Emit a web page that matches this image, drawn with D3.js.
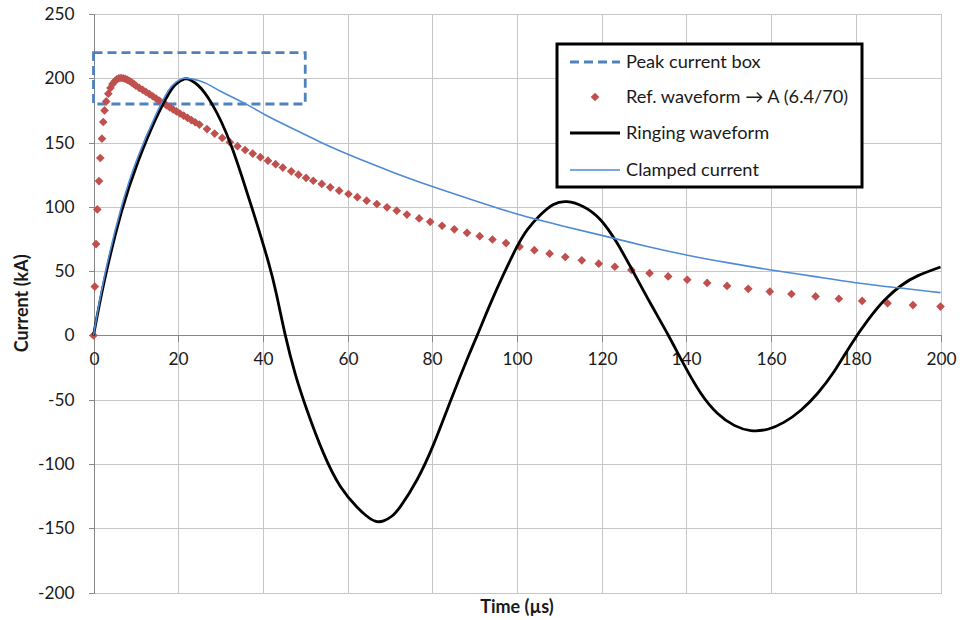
<!DOCTYPE html>
<html>
<head>
<meta charset="utf-8">
<script src="https://cdn.jsdelivr.net/npm/d3@7"></script>
<style>
  html, body { margin: 0; padding: 0; background: #fff; }
  svg { display: block; font-family: Lato, "Open Sans", sans-serif; }
</style>
</head>
<body>
<svg id="chart" width="960" height="620"></svg>
<script>
// Time axis (µs) and current axis (kA)
const xTicks = [0, 20, 40, 60, 80, 100, 120, 140, 160, 180, 200];
const yTicks = [-200, -150, -100, -50, 0, 50, 100, 150, 200, 250];

// Peak current box: 0–50 µs, 180–220 kA
const boxTime = [0, 50];
const boxCurrent = [180, 220];

// Reference waveform samples
const refTime = [0, 0.3, 0.6, 0.9, 1.3, 1.6, 2.0, 2.3, 2.6, 3.0, 3.5, 4.0, 4.5, 5.0, 5.5, 6.0, 6.5, 7.0, 7.5, 8.0,
  8.5, 9.0, 9.5, 10.0, 10.8, 11.6, 12.4, 13.2, 14.0, 14.8, 15.6, 16.4, 17.2, 18.0, 18.8, 19.6, 20.4, 21.3, 22.2, 23.1,
  24.0, 25.0, 26.8, 28.6, 30.4, 32.2, 34.0, 35.8, 37.6, 39.4, 41.2, 43.0, 44.7, 46.7, 48.4, 50.2, 51.9, 53.9, 55.9, 58.0,
  60.2, 62.3, 64.5, 66.9, 69.3, 71.6, 74.0, 76.9, 79.5, 82.3, 85.2, 88.2, 91.2, 94.2, 97.4, 100.6, 104.1, 107.7, 111.4, 115.3,
  119.3, 123.1, 127.0, 131.3, 135.7, 140.2, 144.9, 149.6, 154.6, 159.7, 164.8, 170.5, 176.0, 181.5, 187.5, 193.5, 200];
const refCurrent = [0, 38, 71, 98, 120, 138, 153, 166, 175, 182, 188, 192.5, 195.5, 197.7, 199.2, 200, 200.2, 200, 199.5, 198.8,
  197.9, 196.8, 195.6, 194.3, 192.6, 191.0, 189.3, 187.7, 186.0, 184.2, 182.5, 180.8, 179.1, 177.4, 175.8, 174.2, 172.6, 170.9, 169.2, 167.5,
  165.8, 164.0, 160.5, 157.0, 153.6, 150.3, 147.2, 144.2, 141.4, 138.6, 135.9, 133.2, 130.5, 127.6, 125.0, 122.5, 120.3, 117.8, 115.2, 112.6,
  110.0, 107.5, 104.8, 102.2, 99.6, 97.0, 94.0, 91.0, 88.3, 85.3, 82.5, 79.8, 77.2, 74.6, 71.8, 69.0, 66.3, 63.6, 61.0, 58.4,
  55.8, 53.4, 50.9, 48.4, 45.9, 43.3, 40.8, 38.5, 36.2, 34.1, 32.2, 30.3, 28.5, 26.8, 25.0, 23.6, 22.4];

// Ringing waveform
const ringTime = [0, 2.6, 6.6, 10.5, 14.5, 17.6, 19.5, 21.5, 23.0, 24.7, 26.3, 27.9, 30.2, 32.6, 35.0, 38.1, 41.3, 43.2, 45.3,
  47.6, 50.4, 54.3, 58.3, 62.2, 64.5, 66.5, 68.5, 70.5, 72.5, 76.4, 80.4, 84.3, 88.3, 90.6, 93.7, 96.9, 100.0, 102.5, 105.5,
  108.6, 111.8, 115.7, 119.7, 123.6, 127.6, 131.5, 135.5, 139.4, 143.4, 147.3, 151.3, 155.2, 159.2, 163.1, 167.1, 171.0, 175.0, 178.9, 182.9,
  186.8, 190.8, 194.7, 200];
const ringCurrent = [0, 43, 96, 135, 167, 187, 195.5, 199.5, 198.5, 194.5, 188.5, 180.5, 166, 147, 124, 92, 57, 32, 0,
  -29.5, -58, -91.6, -117.5, -133.5, -140.5, -144.5, -144.3, -140.5, -133, -112.3, -84, -51, -18, 0, 24.5, 48, 69, 82.5, 93.6,
  101.8, 104, 100.1, 90, 72, 48.5, 25, 1.5, -22.5, -45, -60.5, -70, -74, -73, -67.5, -58, -45, -27.5, -7, 12,
  27.5, 39, 46.5, 53.2];

// Clamped current
const clampTime = [0, 2.6, 6.6, 10.5, 14.5, 17.6, 19.5, 21.2, 23.0, 25.0, 27.5, 30.2, 35.7, 40.5, 46.0, 53.5, 59.8, 65.0, 70.8, 79.5,
  89.7, 100.0, 105.5, 111.0, 120.0, 130.0, 140.0, 150.0, 160.0, 170.0, 180.0, 190.0, 200.0];
const clampCurrent = [0, 46, 100, 139, 170, 190, 197, 200, 199.6, 198, 194.5, 189.5, 180.5, 171.6, 162.5, 150.5, 141.3, 134.2, 126.8, 116.4,
  105.2, 94.4, 89.5, 84.9, 77.8, 69.8, 62.6, 56.4, 50.9, 45.9, 41.0, 37.0, 33.3];

const seriesNames = ["Peak current box", "Ref. waveform \u2192 A (6.4/70)", "Ringing waveform", "Clamped current"];

const svg = d3.select("#chart");
const plot = { left: 93.5, right: 940.5, top: 14, bottom: 592.5 };

const x = d3.scaleLinear().domain([0, 200]).range([plot.left, plot.right]);
const y = d3.scaleLinear().domain([-200, 250]).range([plot.bottom, plot.top]);
const px = v => Math.round(v) + 0.5;
const plain = d => String(d);   // hyphen-minus for negative labels

const gridColor = "#c6c6c6";
const axisColor = "#868686";
const FS = 17.3;
const textColor = "#1a1a1a";

// Gridlines
const grid = svg.append("g").attr("shape-rendering", "crispEdges");
grid.selectAll("line.h").data(yTicks).join("line")
  .attr("x1", plot.left).attr("x2", px(x(200)))
  .attr("y1", d => px(y(d))).attr("y2", d => px(y(d)))
  .attr("stroke", gridColor).attr("stroke-width", 1);
grid.selectAll("line.v").data(xTicks.filter(d => d > 0)).join("line")
  .attr("x1", d => px(x(d))).attr("x2", d => px(x(d)))
  .attr("y1", px(y(250))).attr("y2", px(y(-200)))
  .attr("stroke", gridColor).attr("stroke-width", 1);

// Y axis at t = 0
const yAxis = svg.append("g")
  .attr("transform", `translate(${px(x(0))},0)`)
  .attr("shape-rendering", "crispEdges")
  .call(d3.axisLeft(y).tickValues(yTicks).tickSize(6).tickPadding(14).tickFormat(plain));
yAxis.select(".domain").attr("stroke", axisColor).attr("d", `M0,${px(y(250))}V${px(y(-200))}`);
yAxis.selectAll(".tick line").attr("stroke", axisColor);
yAxis.selectAll(".tick").attr("transform", d => `translate(0,${px(y(d))})`);
yAxis.selectAll(".tick text").attr("font-size", FS).attr("font-family", "Lato, sans-serif").attr("fill", textColor);

// X axis at 0 kA
const xAxis = svg.append("g")
  .attr("transform", `translate(0,${px(y(0))})`)
  .attr("shape-rendering", "crispEdges")
  .call(d3.axisBottom(x).tickValues(xTicks).tickSize(6).tickPadding(11).tickFormat(plain));
xAxis.select(".domain").attr("stroke", axisColor).attr("d", `M${px(x(0))},0H${px(x(200))}`);
xAxis.selectAll(".tick line").attr("stroke", axisColor);
xAxis.selectAll(".tick").attr("transform", d => `translate(${px(x(d))},0)`);
xAxis.selectAll(".tick text").attr("font-size", FS).attr("font-family", "Lato, sans-serif").attr("fill", textColor);

// Axis titles
svg.append("text")
  .attr("x", (plot.left + plot.right) / 2).attr("y", 613)
  .attr("text-anchor", "middle").attr("font-weight", "bold").attr("font-size", 18)
  .attr("fill", textColor).text("Time (\u00b5s)");
svg.append("text")
  .attr("transform", `translate(28,${(plot.top + plot.bottom) / 2}) rotate(-90)`)
  .attr("text-anchor", "middle").attr("font-weight", "bold").attr("font-size", 18)
  .attr("fill", textColor).text("Current (kA)");

const blueDash = "#4f81bd";
const red = "#c0504d";
const blueLine = "#4f8ad4";

// Peak current box
svg.append("rect")
  .attr("x", x(boxTime[0])).attr("y", y(boxCurrent[1]))
  .attr("width", x(boxTime[1]) - x(boxTime[0]))
  .attr("height", y(boxCurrent[0]) - y(boxCurrent[1]))
  .attr("fill", "none").attr("stroke", blueDash).attr("stroke-width", 2.8)
  .attr("stroke-dasharray", "9,5");

// Reference waveform markers
const diamond = d3.symbol().type(d3.symbolDiamond2).size(48);
svg.append("g").selectAll("path").data(refTime).join("path")
  .attr("transform", (d, i) => `translate(${x(d)},${y(refCurrent[i])})`)
  .attr("d", diamond).attr("fill", red);

// Smoothed series lines
const line = d3.line().x(d => x(d[0])).y(d => y(d[1])).curve(d3.curveNatural);

// Ringing waveform
svg.append("path")
  .datum(ringTime.map((t, i) => [t, ringCurrent[i]]))
  .attr("d", line).attr("fill", "none").attr("stroke", "#000").attr("stroke-width", 2.8)
  .attr("stroke-linejoin", "round");

// Clamped current
svg.append("path")
  .datum(clampTime.map((t, i) => [t, clampCurrent[i]]))
  .attr("d", line).attr("fill", "none").attr("stroke", blueLine).attr("stroke-width", 1.6)
  .attr("stroke-linejoin", "round");

// Legend
const lg = svg.append("g");
lg.append("rect").attr("x", 557).attr("y", 44).attr("width", 305).attr("height", 143)
  .attr("fill", "#fff").attr("stroke", "#000").attr("stroke-width", 3);
const rows = [62, 97, 133, 170];
lg.append("line").attr("x1", 570).attr("x2", 620).attr("y1", rows[0]).attr("y2", rows[0])
  .attr("stroke", blueDash).attr("stroke-width", 2.8).attr("stroke-dasharray", "9,5");
lg.append("path").attr("transform", `translate(595,${rows[1]})`).attr("d", diamond).attr("fill", red);
lg.append("line").attr("x1", 570).attr("x2", 620).attr("y1", rows[2]).attr("y2", rows[2])
  .attr("stroke", "#000").attr("stroke-width", 2.8);
lg.append("line").attr("x1", 570).attr("x2", 620).attr("y1", rows[3]).attr("y2", rows[3])
  .attr("stroke", blueLine).attr("stroke-width", 1.6);
lg.selectAll("text.lbl").data(seriesNames).join("text")
  .attr("x", 626).attr("y", (d, i) => rows[i]).attr("dy", "0.35em")
  .attr("font-size", 18.2).attr("fill", textColor).text(d => d);
</script>
</body>
</html>
